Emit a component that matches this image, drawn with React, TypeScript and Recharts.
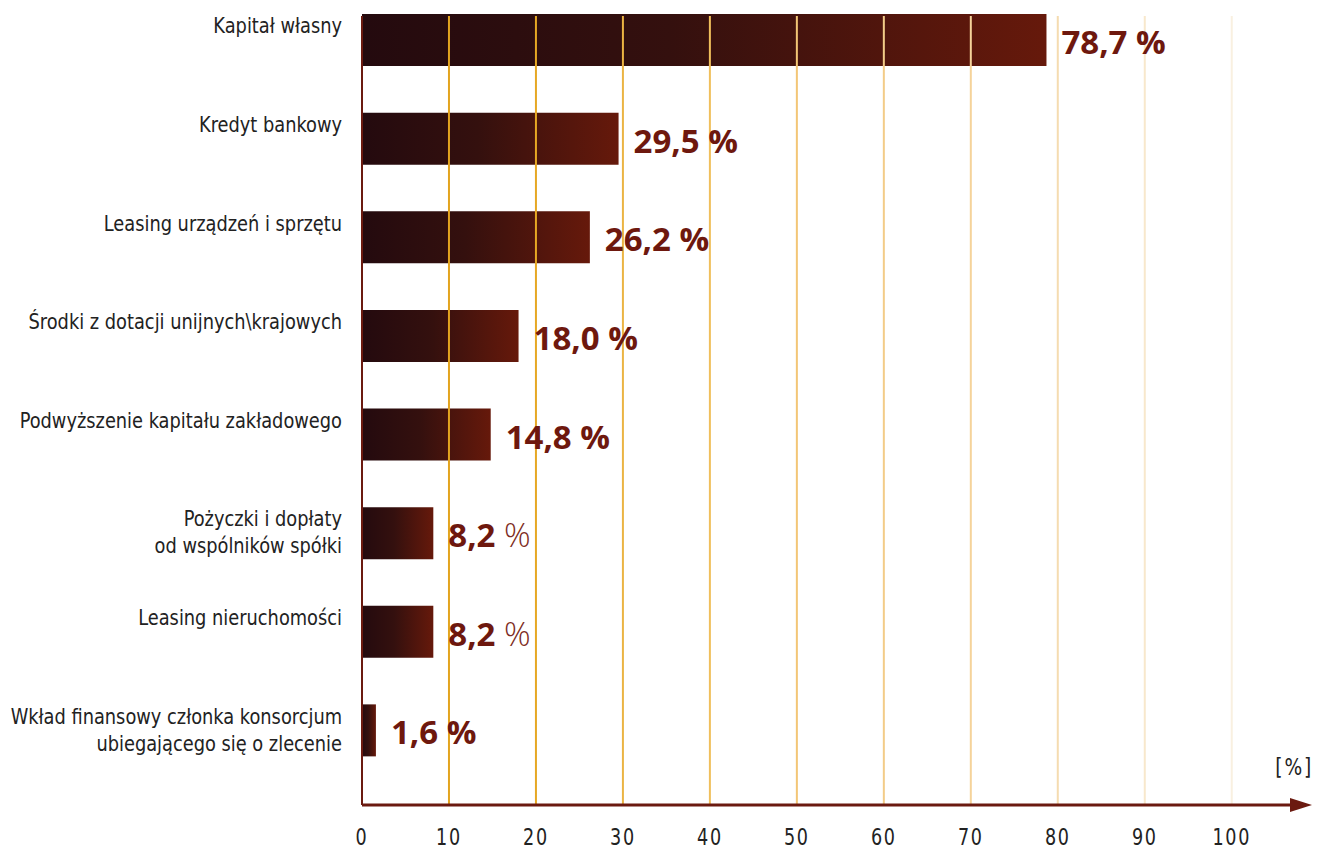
import React from "react";
import { BarChart, Bar, XAxis, YAxis, ReferenceLine, LabelList } from "recharts";

// Sources of financing (% of answers)
const CATEGORIES = [
  "Kapitał własny",
  "Kredyt bankowy",
  "Leasing urządzeń i sprzętu",
  "Środki z dotacji unijnych\\krajowych",
  "Podwyższenie kapitału zakładowego",
  "Pożyczki i dopłaty\nod wspólników spółki",
  "Leasing nieruchomości",
  "Wkład finansowy członka konsorcjum\nubiegającego się o zlecenie",
];
const VALUES = [78.7, 29.5, 26.2, 18.0, 14.8, 8.2, 8.2, 1.6];
// rows where the "%" sign is printed in a light weight
const LIGHT_PERCENT = [false, false, false, false, false, true, true, false];

const X_TICKS = [0, 10, 20, 30, 40, 50, 60, 70, 80, 90, 100];
const GRID_TICKS = [10, 20, 30, 40, 50, 60, 70, 80, 90, 100];
const GRID_COLORS = ["#e3a41f", "#e6a824", "#ebb443", "#f0bf5c", "#f3c676", "#f3cc88", "#f5d39a", "#f5dcb0", "#f8e8cc", "#f9f0e0"];

const data = CATEGORIES.map((name, i) => ({ name, value: VALUES[i] }));

const NARROW = '"DejaVu Sans Condensed", sans-serif';
const AXIS = "#6b1a10";
const LABEL_RED = "#6e180e";

// condensed look: squeeze the text horizontally around its anchor
function CategoryTick({ x, y, payload }: any) {
  const lines = String(payload.value).split("\n");
  return (
    <g transform={`translate(${x},${y}) scale(0.9,1)`}>
      <text x={0} y={0} textAnchor="end" fontFamily={NARROW} fontSize={22} fill="#222">
        {lines.map((l, i) => (
          <tspan key={i} x={0} y={-7 + i * 27}>{l}</tspan>
        ))}
      </text>
    </g>
  );
}

function NumberTick({ x, y, payload }: any) {
  return (
    <g transform={`translate(${x},${y}) scale(0.85,1)`}>
      <text x={0} y={0} dy="0.71em" textAnchor="middle" fontFamily={NARROW} fontSize={23} fill="#222" letterSpacing={2}>
        {payload.value}
      </text>
    </g>
  );
}

function ValueLabel(props: any) {
  const { x, y, width, height, index } = props;
  const v = VALUES[index].toFixed(1).replace(".", ",");
  const light = LIGHT_PERCENT[index];
  return (
    <text x={x + width + 15} y={y + height / 2 + 14} fontFamily='"Open Sans", sans-serif' fontSize={33} fill={LABEL_RED}>
      <tspan fontWeight={700}>{v}</tspan>
      <tspan fontWeight={light ? 300 : 700} fill={light ? "#7d2b22" : LABEL_RED}>{" %"}</tspan>
    </text>
  );
}

function UnitLabel({ viewBox }: any) {
  const { x, y, width } = viewBox;
  return (
    <g transform={`translate(${x + width + 23},${y - 30}) scale(0.9,1)`}>
      <text x={0} y={0} textAnchor="end" fontFamily={NARROW} fontSize={23} fill="#222" letterSpacing={2}>
        [%]
      </text>
    </g>
  );
}

export default function App() {
  return (
    <div style={{ position: "absolute", left: 0, top: 0, background: "#fff" }}>
      <BarChart
        width={1328}
        height={852}
        data={data}
        layout="vertical"
        margin={{ top: 16, right: 38, bottom: 0, left: 0 }}
      >
        <defs>
          <linearGradient id="barGrad" x1="0" y1="0" x2="1" y2="0">
            <stop offset="0%" stopColor="#240a0e" />
            <stop offset="45%" stopColor="#34100e" />
            <stop offset="100%" stopColor="#66190b" />
          </linearGradient>
          <marker id="arrowHead" markerUnits="userSpaceOnUse" markerWidth={24} markerHeight={14} refX={0} refY={7} orient="auto">
            <path d="M0,0 L22,7 L0,14 z" fill={AXIS} />
          </marker>
        </defs>
        <XAxis
          type="number"
          domain={[0, 106.7]}
          ticks={X_TICKS}
          height={47}
          tickLine={false}
          tickMargin={18}
          axisLine={{ stroke: AXIS, strokeWidth: 3, markerEnd: "url(#arrowHead)" }}
          tick={<NumberTick />}
          label={<UnitLabel />}
        />
        <YAxis
          type="category"
          dataKey="name"
          width={362}
          padding={{ top: -25, bottom: 25 }}
          tickLine={false}
          tickMargin={14}
          axisLine={{ stroke: AXIS, strokeWidth: 2 }}
          tick={<CategoryTick />}
          interval={0}
        />
        {GRID_TICKS.map((t, i) => (
          <ReferenceLine key={t} x={t} stroke={GRID_COLORS[i]} strokeWidth={2} />
        ))}
        <Bar dataKey="value" fill="url(#barGrad)" barSize={52} isAnimationActive={false}>
          <LabelList dataKey="value" content={<ValueLabel />} />
        </Bar>
      </BarChart>
    </div>
  );
}
